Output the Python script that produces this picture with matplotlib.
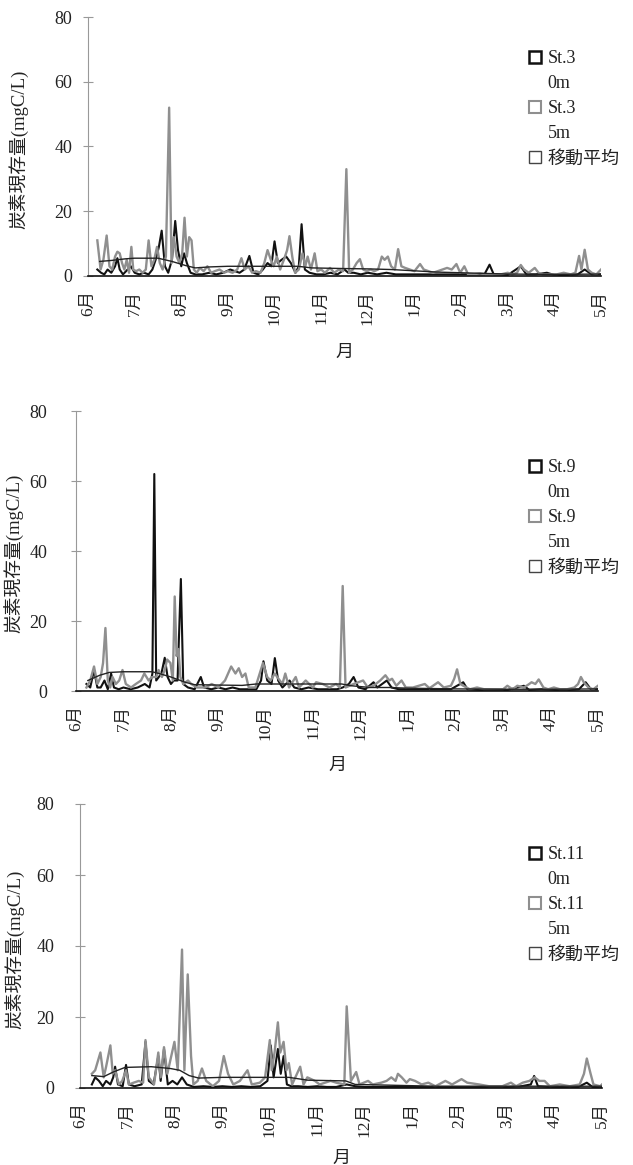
import matplotlib.pyplot as plt
from matplotlib.lines import Line2D

plt.rcParams['font.family'] = ['Liberation Serif', 'Noto Sans CJK JP']

months = ['6月', '7月', '8月', '9月', '10月', '11月', '12月',
          '1月', '2月', '3月', '4月', '5月']
ylabel = '炭素現存量(mgC/L)'
stations = ['St.3', 'St.9', 'St.11']

# x positions are in months from the start of June
st3_0m_x = [0.20, 0.28, 0.35, 0.42, 0.50, 0.58, 0.63, 0.68, 0.75, 0.85, 0.92, 1.00, 1.10, 1.20,
            1.30, 1.38, 1.45, 1.52, 1.58, 1.65, 1.72, 1.80, 1.87, 1.93, 2.00, 2.06, 2.12, 2.20,
            2.30, 2.45, 2.60, 2.75, 2.90, 3.05, 3.15, 3.25, 3.35, 3.46, 3.55, 3.65, 3.75, 3.85,
            3.93, 4.00, 4.07, 4.15, 4.25, 4.35, 4.45, 4.52, 4.58, 4.65, 4.75, 4.90, 5.05, 5.20,
            5.35, 5.50, 5.58, 5.70, 5.85, 6.00, 6.20, 6.40, 6.60, 6.80, 7.00, 7.30, 7.60, 7.90,
            8.20, 8.50, 8.61, 8.70, 9.00, 9.28, 9.40, 9.60, 9.84, 10.00, 10.30, 10.50, 10.65,
            10.80, 11.00]
st3_0m_y = [2, 1, 0.5, 2, 1, 3, 5.5, 2, 0.5, 2, 3, 1, 0.5, 1,
            0.5, 2, 5, 9, 14, 3, 1, 5, 17, 8, 3, 7, 4, 1,
            0.5, 0.5, 1, 0.5, 1, 2, 1.5, 1, 2, 6.2, 1, 0.5, 2, 4,
            3, 10.7, 4, 5, 6, 4, 1, 3, 16, 2, 1, 0.5, 0.5, 1,
            0.5, 2, 1, 1, 0.5, 1, 0.5, 1, 0.5, 0.5, 0.5, 0.5, 0.5, 0.5,
            0.5, 0.5, 3.5, 0.5, 0.3, 3, 0.5, 0.5, 1, 0.3, 0.3, 0.5, 2,
            0.5, 0.5]
st3_5m_x = [0.20, 0.27, 0.33, 0.40, 0.46, 0.52, 0.58, 0.63, 0.68, 0.73, 0.78, 0.83, 0.88, 0.93,
            0.97, 1.03, 1.10, 1.17, 1.24, 1.30, 1.36, 1.42, 1.48, 1.54, 1.60, 1.67, 1.74, 1.79,
            1.84, 1.90, 1.96, 2.02, 2.07, 2.12, 2.17, 2.22, 2.27, 2.33, 2.40, 2.48, 2.56, 2.64,
            2.72, 2.82, 2.92, 3.00, 3.10, 3.20, 3.29, 3.36, 3.44, 3.52, 3.60, 3.70, 3.78, 3.85,
            3.92, 3.98, 4.05, 4.12, 4.20, 4.27, 4.32, 4.38, 4.44, 4.52, 4.60, 4.66, 4.71, 4.78,
            4.86, 4.92, 5.00, 5.08, 5.19, 5.28, 5.38, 5.47, 5.54, 5.60, 5.68, 5.76, 5.83, 5.90,
            5.98, 6.06, 6.14, 6.22, 6.30, 6.36, 6.43, 6.50, 6.58, 6.65, 6.72, 6.80, 6.90, 7.00,
            7.12, 7.20, 7.30, 7.40, 7.50, 7.60, 7.70, 7.80, 7.90, 7.98, 8.07, 8.15, 8.25, 8.40,
            8.55, 8.70, 8.85, 9.00, 9.10, 9.20, 9.28, 9.35, 9.45, 9.58, 9.66, 9.75, 9.90, 10.05,
            10.20, 10.35, 10.45, 10.53, 10.58, 10.65, 10.72, 10.80, 10.90, 11.00]
st3_5m_y = [11, 2, 5, 12.5, 3, 2, 6, 7.5, 7, 4, 2, 5, 1, 9,
            2, 1.5, 2, 1, 2, 11, 3, 5, 9, 4, 2, 6, 52, 4,
            12, 6, 4, 7, 18, 6, 12, 11, 2, 1, 2.5, 1.5, 3, 1,
            1.5, 2, 1, 1.5, 1, 2, 5.5, 2, 3, 1, 1.5, 1, 4, 8,
            5, 3, 6, 2, 5, 8, 12.3, 6, 1, 2, 7, 3, 6, 2,
            7, 1.5, 2, 1, 2.5, 1, 2, 1.5, 33, 1, 2, 4, 5.2, 2,
            1.5, 2, 1.5, 2, 6, 5, 6, 3, 2, 8.3, 3, 2.5, 2, 1.5,
            3.7, 2, 1.5, 1, 1.5, 2, 2.5, 2, 3.7, 1, 3, 0.5, 0.5, 0.8,
            0.5, 0.5, 0.5, 1, 0.5, 1, 3.4, 2, 1, 2.5, 1, 0.5, 0.5, 0.5,
            1, 0.5, 1, 6.2, 2, 8.1, 2, 1, 0.5, 2]
st3_avg_x = [0.25, 0.5, 0.8, 1.0, 1.5, 1.8, 2.1, 2.3, 2.6, 3.0, 4.5, 4.8, 5.5, 6.0, 6.5, 7.0,
             7.5, 8.0, 8.5, 9.0, 10.0, 11.0]
st3_avg_y = [4.5, 4.8, 5.3, 5.5, 5.5, 4.5, 3.2, 2.5, 2.8, 3.0, 3.0, 2.5, 2.3, 2.2, 2.0, 1.6,
             1.2, 1.0, 0.8, 0.6, 0.5, 0.6]

st9_0m_x = [0.22, 0.30, 0.38, 0.45, 0.52, 0.60, 0.67, 0.74, 0.80, 0.90, 1.00, 1.15, 1.30, 1.45,
            1.55, 1.61, 1.65, 1.69, 1.80, 1.87, 1.93, 2.00, 2.06, 2.14, 2.21, 2.26, 2.36, 2.50,
            2.63, 2.70, 2.85, 3.00, 3.15, 3.30, 3.45, 3.60, 3.80, 3.90, 3.95, 4.03, 4.12, 4.19,
            4.26, 4.35, 4.50, 4.60, 4.75, 4.90, 5.10, 5.30, 5.50, 5.62, 5.75, 5.85, 5.95, 6.10,
            6.27, 6.35, 6.55, 6.65, 6.80, 7.00, 7.30, 7.60, 7.90, 8.16, 8.25, 8.50, 8.80, 9.10,
            9.44, 9.55, 9.80, 10.10, 10.40, 10.60, 10.74, 10.85, 11.00]
st9_0m_y = [2, 1, 6, 1, 1, 3, 0.5, 5, 1, 0.5, 1, 0.5, 1, 2,
            1, 5, 62, 3, 5, 9.5, 4, 2, 3, 3, 32, 2, 1, 0.5,
            4, 1, 0.5, 1, 0.5, 1, 0.5, 0.5, 0.5, 3, 8.5, 3, 2, 9.4,
            3, 1, 3, 1, 0.5, 1, 0.5, 0.5, 0.5, 1, 2, 4, 1, 0.5,
            2.5, 1, 3, 1, 0.5, 0.5, 0.5, 0.5, 0.5, 2.5, 0.5, 0.3, 0.3, 0.3,
            1.5, 0.3, 0.5, 0.3, 0.3, 0.5, 2.5, 0.5, 0.5]
st9_5m_x = [0.22, 0.30, 0.38, 0.45, 0.52, 0.57, 0.62, 0.67, 0.72, 0.77, 0.84, 0.91, 0.98, 1.05,
            1.16, 1.26, 1.37, 1.44, 1.53, 1.60, 1.69, 1.74, 1.81, 1.87, 1.92, 1.99, 2.04, 2.08,
            2.12, 2.16, 2.20, 2.26, 2.36, 2.43, 2.55, 2.72, 2.86, 3.00, 3.14, 3.27, 3.36, 3.43,
            3.50, 3.57, 3.64, 3.78, 3.94, 4.03, 4.10, 4.19, 4.24, 4.35, 4.41, 4.49, 4.63, 4.70,
            4.84, 4.99, 5.06, 5.20, 5.34, 5.48, 5.56, 5.62, 5.68, 5.85, 6.05, 6.15, 6.27, 6.41,
            6.52, 6.60, 6.66, 6.75, 6.86, 6.95, 7.10, 7.35, 7.45, 7.63, 7.75, 7.90, 7.97, 8.03,
            8.10, 8.16, 8.30, 8.45, 8.60, 8.80, 9.00, 9.09, 9.20, 9.30, 9.44, 9.55, 9.60, 9.68,
            9.75, 9.85, 9.95, 10.07, 10.20, 10.35, 10.50, 10.58, 10.64, 10.70, 10.80, 10.90, 11.00]
st9_5m_y = [1, 3, 7, 2, 4, 8, 18, 3, 1, 4, 2, 3, 6, 2,
            1, 2, 3, 5, 3, 4, 4, 6, 4, 6, 9, 8, 3, 27,
            10, 12, 4, 2, 3, 2, 1, 1, 2, 1, 3, 7, 5, 6.5,
            4, 5, 1, 1, 8, 4, 3, 5, 4, 2, 5, 1, 4, 1,
            3, 1, 2.5, 2, 1, 2, 1, 30, 1, 2, 3, 1, 1.5, 3,
            4.5, 3, 3.5, 1.5, 3, 1, 1, 2, 0.8, 2.5, 1, 1.5, 3.5, 6.2,
            2, 1.5, 0.5, 1, 0.5, 0.5, 0.5, 1.5, 0.5, 1.5, 1, 2, 2.5, 2,
            3.3, 1, 0.5, 1, 0.5, 0.5, 1, 2, 4, 2.5, 1, 0.5, 1.5]
st9_avg_x = [0.25, 0.5, 0.7, 1.0, 1.6, 1.75, 2.0, 2.3, 2.5, 3.5, 3.8, 5.6, 5.8, 6.2, 6.6, 7.0,
             8.0, 9.0, 10.0, 11.0]
st9_avg_y = [3.0, 4.5, 5.3, 5.5, 5.5, 5.0, 4.0, 2.5, 1.8, 1.6, 2.0, 2.0, 1.5, 1.0, 1.0, 0.8,
             0.6, 0.5, 0.5, 0.6]

st11_0m_x = [0.25, 0.32, 0.40, 0.48, 0.55, 0.64, 0.70, 0.74, 0.80, 0.90, 0.97, 1.03, 1.15, 1.30,
             1.38, 1.45, 1.55, 1.65, 1.70, 1.77, 1.85, 1.95, 2.05, 2.15, 2.25, 2.40, 2.60, 2.80,
             3.00, 3.20, 3.40, 3.60, 3.80, 3.95, 4.02, 4.08, 4.17, 4.23, 4.29, 4.36, 4.45, 4.60,
             4.80, 5.00, 5.20, 5.40, 5.62, 5.80, 6.00, 6.30, 6.60, 6.90, 7.20, 7.50, 7.80, 8.10,
             8.40, 8.70, 9.00, 9.30, 9.50, 9.57, 9.65, 9.90, 10.20, 10.50, 10.68, 10.80, 11.00]
st11_0m_y = [1, 3, 2, 0.5, 2, 1, 3, 6, 1, 0.5, 6.5, 1, 0.5, 1,
             13, 2, 1, 9, 2, 11, 1, 2, 1, 3, 1, 0.3, 0.5, 0.3,
             0.5, 0.3, 0.5, 0.3, 0.5, 2, 12, 3, 11, 4, 9, 1, 0.5, 0.5,
             0.3, 0.5, 0.3, 0.3, 1, 0.5, 0.3, 0.3, 0.3, 0.3, 0.3, 0.3, 0.3, 0.3,
             0.3, 0.3, 0.3, 0.5, 1, 3.4, 0.5, 0.3, 0.3, 0.3, 1.5, 0.3, 0.3]
st11_5m_x = [0.25, 0.32, 0.43, 0.50, 0.55, 0.64, 0.69, 0.74, 0.82, 0.89, 0.97, 1.03, 1.13, 1.24,
             1.33, 1.38, 1.45, 1.56, 1.65, 1.70, 1.77, 1.84, 1.94, 1.99, 2.06, 2.15, 2.20, 2.27,
             2.34, 2.39, 2.48, 2.57, 2.66, 2.80, 2.93, 3.03, 3.12, 3.23, 3.37, 3.53, 3.62, 3.79,
             3.90, 4.00, 4.04, 4.10, 4.17, 4.22, 4.29, 4.35, 4.40, 4.47, 4.64, 4.71, 4.79, 4.87,
             4.95, 5.05, 5.28, 5.40, 5.57, 5.62, 5.71, 5.82, 5.89, 6.07, 6.17, 6.35, 6.46, 6.56,
             6.65, 6.70, 6.78, 6.88, 6.95, 7.06, 7.20, 7.34, 7.49, 7.70, 7.84, 8.04, 8.16, 8.41,
             8.62, 8.90, 9.08, 9.19, 9.33, 9.47, 9.58, 9.68, 9.79, 9.90, 10.11, 10.32, 10.53, 10.62,
             10.68, 10.76, 10.82, 10.96, 11.00]
st11_5m_y = [4, 5, 10, 3, 6, 12, 4, 5, 1, 2, 5, 1, 1.5, 2,
             1.5, 13.5, 3, 1, 10, 3, 11.5, 4, 10, 13, 5, 39, 5, 32,
             9, 1, 2, 5.5, 2, 0.5, 2, 9, 4, 1, 2, 5, 1, 1.5,
             3, 13.5, 5, 10, 18.5, 10, 13, 5, 7, 1, 6, 1, 3, 2.5,
             2, 1, 2, 1.5, 1, 23, 2, 4.5, 1, 2, 1, 1.5, 2, 3,
             2, 4, 3, 1.5, 2.5, 2, 1, 1.5, 0.5, 2, 1, 2.5, 1.5, 1,
             0.5, 0.5, 1.5, 0.5, 1.5, 2, 3, 2, 2, 0.5, 1, 0.5, 1, 4,
             8.3, 4, 1, 0.5, 1]
st11_avg_x = [0.25, 0.5, 0.7, 0.95, 1.5, 1.9, 2.1, 2.3, 2.5, 3.0, 4.4, 4.8, 5.6, 5.8, 6.5, 7.5,
              9.0, 11.0]
st11_avg_y = [3.5, 3.2, 4.5, 5.8, 6.0, 5.5, 5.0, 3.5, 2.8, 3.0, 3.0, 2.2, 2.0, 1.0, 0.8, 0.5,
              0.5, 0.5]

panels = [
    (stations[0], st3_0m_x, st3_0m_y, st3_5m_x, st3_5m_y, st3_avg_x, st3_avg_y),
    (stations[1], st9_0m_x, st9_0m_y, st9_5m_x, st9_5m_y, st9_avg_x, st9_avg_y),
    (stations[2], st11_0m_x, st11_0m_y, st11_5m_x, st11_5m_y, st11_avg_x, st11_avg_y),
]

# layout: axes rect (pixels), xlabel y, ylabel x, legend top, y tick pad
W, H = 633, 1165
layout = [
    dict(rect=(88, 17, 601, 276), xlab=-0.262, ylab=-0.115, leg=50, ypad=8),
    dict(rect=(76, 411, 598, 691), xlab=-0.236, ylab=-0.098, leg=459, ypad=17),
    dict(rect=(80, 804, 602, 1088), xlab=-0.218, ylab=-0.105, leg=846, ypad=15),
]

fig = plt.figure(figsize=(W / 100, H / 100), dpi=100)
text_color = '#222222'
gray = '#8f8f8f'

for (name, x0, y0, x5, y5, xa, ya), lay in zip(panels, layout):
    l, t, r, b = lay['rect']
    ax = fig.add_axes([l / W, 1 - b / H, (r - l) / W, (b - t) / H])
    ax.plot(x0, y0, color='#111111', lw=1.5)
    ax.plot(x5, y5, color=gray, lw=1.7)
    ax.plot(xa, ya, color='#222222', lw=1.0)

    ax.set_xlim(0, 11)
    ax.set_ylim(0, 80)
    ax.set_yticks([0, 20, 40, 60, 80])
    ax.set_xticks(range(len(months)))
    ax.set_xticklabels(months, rotation=90)
    for s in ['top', 'right']:
        ax.spines[s].set_visible(False)
    ax.spines['left'].set_color('#999999')
    ax.spines['bottom'].set_color('#111111')
    ax.spines['bottom'].set_linewidth(1.2)
    ax.tick_params(axis='y', direction='inout', length=7, color='#999999',
                   labelsize=13, labelcolor=text_color, pad=lay['ypad'])
    ax.tick_params(axis='x', length=0, labelsize=12.5, labelcolor=text_color, pad=10)

    ax.set_xlabel('月', fontsize=13, color=text_color)
    ax.xaxis.set_label_coords(0.5, lay['xlab'])
    ax.set_ylabel(ylabel, fontsize=13.5, color=text_color)
    ax.yaxis.set_label_coords(lay['ylab'], 0.49)

    handles = [
        Line2D([], [], ls='none', marker='s', ms=8, mfc='white', mec='#111111', mew=1.8),
        Line2D([], [], ls='none'),
        Line2D([], [], ls='none', marker='s', ms=8, mfc='white', mec=gray, mew=1.5),
        Line2D([], [], ls='none'),
        Line2D([], [], ls='none', marker='s', ms=8, mfc='white', mec='#444444', mew=1.0),
    ]
    labels = [name, '0m', name, '5m', '移動平均']
    fig.legend(handles, labels, loc='upper left', bbox_to_anchor=(528 / W, 1 - lay['leg'] / H),
               frameon=False, fontsize=13, handlelength=0.8, handletextpad=0.3,
               borderpad=0, borderaxespad=0, labelspacing=0.45, labelcolor=text_color)

fig.savefig('out.png', dpi=100)
